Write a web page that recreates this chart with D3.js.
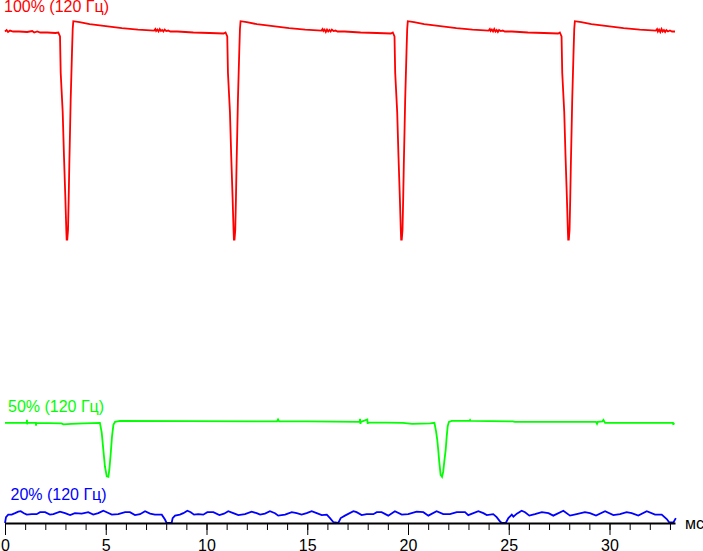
<!DOCTYPE html>
<html>
<head>
<meta charset="utf-8">
<script src="https://cdn.jsdelivr.net/npm/d3@7"></script>
<style>
    html, body { margin: 0; padding: 0; background: #fff; }
    svg { display: block; font-family: Arial, "Liberation Sans", sans-serif; }
</style>
</head>
<body>
<svg id="chart" width="703" height="551"></svg>
<script>
    // time in ms, relative brightness (100 = full white level)
    var redTrace = [
        [0, 100.1], [0.08, 100.4], [0.15, 100.0], [0.25, 100.3], [0.4, 100.1], [0.7, 100.1], [1.1, 100.0],
        [1.35, 100.2], [1.45, 99.9], [1.6, 100.1], [1.75, 99.9], [2.1, 99.9], [2.5, 99.8],
        [2.645, 99.9], [2.73, 99.1], [2.764, 91.7], [2.864, 83.6], [2.928, 74.6], [2.993, 66.5], [3.042, 59.7],
        [3.06, 57.7], [3.09, 57.7], [3.127, 59.7], [3.16, 65.9], [3.19, 72.6], [3.226, 79.6], [3.26, 86.3],
        [3.325, 95.9], [3.36, 100.6], [3.39, 102.2],
        [3.70, 102.0], [4.20, 101.6], [5.00, 101.2], [5.80, 100.8], [6.60, 100.5], [7.40, 100.3], [7.46, 100.6],
        [7.50, 100.2], [7.56, 100.5], [7.62, 100.1], [7.68, 100.6], [7.74, 100.2], [7.80, 100.4], [7.86, 100.1],
        [7.92, 100.5], [8.00, 100.2], [8.10, 100.3], [8.20, 100.1],
        [8.55, 100.1], [9.35, 99.9], [10.15, 99.8], [10.85, 99.7],
        [10.945, 99.9], [11.03, 99.1], [11.064, 91.7], [11.164, 83.6], [11.228, 74.6], [11.293, 66.5], [11.342, 59.7],
        [11.36, 57.7], [11.39, 57.7], [11.427, 59.7], [11.46, 65.9], [11.49, 72.6], [11.526, 79.6], [11.56, 86.3],
        [11.625, 95.9], [11.66, 100.6], [11.69, 102.2],
        [12.00, 102.0], [12.50, 101.6], [13.30, 101.2], [14.10, 100.8], [14.90, 100.5], [15.70, 100.3], [15.76, 100.6],
        [15.80, 100.2], [15.86, 100.5], [15.92, 100.0], [15.98, 100.5], [16.04, 100.1], [16.10, 100.4], [16.16, 100.1],
        [16.22, 100.5], [16.30, 100.2], [16.40, 100.3], [16.50, 100.1],
        [16.85, 100.1], [17.65, 99.9], [18.45, 99.8], [19.15, 99.7],
        [19.245, 99.9], [19.33, 99.1], [19.364, 91.7], [19.464, 83.6], [19.528, 74.6], [19.593, 66.5], [19.642, 59.7],
        [19.66, 57.7], [19.69, 57.7], [19.727, 59.7], [19.76, 65.9], [19.79, 72.6], [19.826, 79.6], [19.86, 86.3],
        [19.925, 95.9], [19.96, 100.6], [19.99, 102.2],
        [20.30, 102.0], [20.80, 101.6], [21.60, 101.2], [22.40, 100.8], [23.20, 100.5], [24.00, 100.3], [24.06, 100.6],
        [24.10, 100.2], [24.16, 100.5], [24.22, 100.1], [24.28, 100.6], [24.34, 100.1], [24.40, 100.4], [24.46, 100.0],
        [24.52, 100.4], [24.60, 100.2], [24.70, 100.3], [24.80, 100.1],
        [25.15, 100.1], [25.95, 99.9], [26.75, 99.8], [27.45, 99.7],
        [27.535, 99.9], [27.62, 99.1], [27.654, 91.7], [27.754, 83.6], [27.818, 74.6], [27.883, 66.5], [27.932, 59.7],
        [27.95, 57.7], [27.98, 57.7], [28.017, 59.7], [28.05, 65.9], [28.08, 72.6], [28.116, 79.6], [28.15, 86.3],
        [28.215, 95.9], [28.25, 100.6], [28.28, 102.2],
        [28.60, 102.0], [29.10, 101.6], [29.90, 101.2], [30.70, 100.8], [31.50, 100.5], [32.30, 100.3], [32.36, 100.6],
        [32.40, 100.1], [32.46, 100.5], [32.52, 100.0], [32.58, 100.6], [32.64, 100.1], [32.70, 100.4], [32.76, 100.0],
        [32.82, 100.4], [32.90, 100.1], [33.00, 100.3], [33.10, 100.1], [33.25, 100.1]
    ];

    var greenTrace = [
        [0, 20.4], [1.08, 20.4], [1.09, 21.0], [1.10, 20.1], [1.11, 20.4], [1.53, 20.4], [1.54, 19.8], [1.55, 20.4],
        [2.8, 20.3], [2.9, 20.1], [3.3, 20.2], [3.9, 20.3], [4.71, 20.4],
        [4.80, 18.4], [4.88, 14.9], [4.96, 11.5], [5.05, 9.5], [5.13, 9.4], [5.18, 10.9], [5.25, 14.3], [5.31, 17.6],
        [5.38, 20.0], [5.46, 20.6], [5.71, 20.8],
        [13.50, 20.7], [13.55, 21.1], [13.60, 20.7], [15.0, 20.7], [17.60, 20.6], [17.62, 21.2], [17.64, 20.2],
        [17.66, 20.6], [17.98, 21.1], [18.00, 20.2], [18.02, 20.5], [19.75, 20.4], [20.2, 20.2], [21.1, 20.3],
        [21.31, 20.4], [21.39, 18.7], [21.45, 17.0], [21.50, 14.9], [21.55, 12.5], [21.62, 9.8], [21.69, 9.4],
        [21.75, 10.5], [21.80, 12.5], [21.87, 14.9], [21.92, 17.6], [21.97, 19.7], [22.03, 20.6], [22.17, 20.8],
        [23.05, 20.8], [23.08, 21.0], [23.11, 20.8], [25.2, 20.7], [25.3, 20.6], [29.33, 20.6], [29.38, 20.2],
        [29.42, 20.6], [29.65, 20.7], [29.70, 21.0], [29.78, 20.4], [33.15, 20.4], [33.17, 20.0], [33.2, 20.4]
    ];

    var blueTrace = [
        [0, 0], [0.05, 1.2], [0.16, 1.7], [0.33, 1.7], [0.5, 2.0], [0.66, 2.3], [0.78, 2.4], [0.94, 2.0], [1.08, 1.7],
        [1.33, 1.8], [1.57, 1.8], [1.74, 2.2], [1.99, 2.2], [2.23, 1.7], [2.40, 1.8], [2.73, 2.3], [2.98, 2.0],
        [3.23, 1.6], [3.47, 2.0], [3.81, 1.9], [4.13, 2.2], [4.38, 1.7], [4.63, 2.0], [4.88, 2.5], [5.05, 2.2],
        [5.30, 1.7], [5.62, 1.8], [5.96, 2.2], [6.20, 2.2], [6.45, 1.6], [6.70, 1.8], [6.95, 2.4], [7.20, 1.9],
        [7.44, 1.7], [7.78, 1.7], [7.94, 0.7], [8.02, 0], [8.27, 0], [8.32, 1.0], [8.44, 1.5], [8.68, 1.7],
        [8.85, 2.0], [9.05, 2.5], [9.22, 2.2], [9.38, 1.7], [9.59, 1.8], [9.84, 1.7], [10.04, 2.2], [10.34, 2.2],
        [10.64, 1.6], [10.87, 1.9], [11.08, 2.4], [11.33, 2.0], [11.58, 1.6], [11.91, 1.8], [12.24, 2.3], [12.49, 2.0],
        [12.66, 1.7], [12.90, 1.9], [13.15, 2.4], [13.40, 2.0], [13.56, 1.5], [13.90, 1.7], [14.23, 2.2], [14.48, 2.0],
        [14.72, 1.7], [14.97, 2.0], [15.22, 2.4], [15.47, 2.0], [15.72, 1.6], [15.97, 1.7], [16.13, 1.0], [16.29, 0.2],
        [16.54, 0], [16.66, 1.0], [16.87, 1.5], [17.29, 2.4], [17.45, 2.2], [17.70, 1.6], [17.95, 1.8], [18.28, 1.8],
        [18.45, 2.2], [18.69, 2.2], [19.02, 1.5], [19.35, 2.4], [19.69, 1.7], [20.01, 1.8], [20.43, 2.3], [20.76, 2.2],
        [21.01, 1.5], [21.42, 2.4], [21.75, 1.8], [22.08, 1.8], [22.42, 2.2], [22.83, 2.2], [22.99, 1.6], [23.49, 2.4],
        [23.74, 2.0], [23.91, 1.6], [24.23, 1.8], [24.40, 1.2], [24.57, 0.3], [24.65, 0], [24.85, 0], [24.98, 1.0],
        [25.15, 1.7], [25.23, 1.3], [25.40, 1.9], [25.64, 2.5], [25.81, 2.2], [26.02, 1.5], [26.30, 1.8], [26.64, 2.2],
        [26.97, 2.0], [27.21, 1.5], [27.71, 2.5], [28.04, 1.5], [28.37, 1.8], [28.78, 2.2], [29.03, 2.0], [29.33, 1.5],
        [29.78, 2.4], [30.19, 1.6], [30.52, 1.8], [30.85, 2.2], [31.10, 2.0], [31.43, 1.5], [31.85, 2.4], [32.26, 1.7],
        [32.59, 1.7], [32.84, 0.8], [32.97, 0.1], [33.17, 0.1], [33.29, 1.0]
    ];

    var traceLabels = ['100% (120 Гц)', '50% (120 Гц)', '20% (120 Гц)'];
    var minorTicks = d3.range(0, 34);
    var majorTicks = [0, 5, 10, 15, 20, 25, 30];
    var unitLabel = 'мс';

    var width = 703;
    var height = 551;

    var x = d3.scaleLinear().domain([0, 33.25]).range([5, 675]);
    var y = d3.scaleLinear().domain([0, 100]).range([523, 32]);

    var series = [
        { data: redTrace, label: traceLabels[0], color: '#ff0000', labelX: 4, labelDy: -9 },
        { data: greenTrace, label: traceLabels[1], color: '#00ff00', labelX: 8, labelDy: -6.5 },
        { data: blueTrace, label: traceLabels[2], color: '#0000ff', labelX: 10.5, labelDy: -10.5 }
    ];

    var svg = d3.select('#chart')
        .attr('width', width)
        .attr('height', height);

    var line = d3.line()
        .x(function (d) { return x(d[0]); })
        .y(function (d) { return y(d[1]); })
        .curve(d3.curveLinear);

    series.forEach(function (s) {
        svg.append('path')
            .datum(s.data)
            .attr('d', line)
            .attr('fill', 'none')
            .attr('stroke', s.color)
            .attr('stroke-width', 1.8)
            .attr('stroke-linejoin', 'miter');

        svg.append('text')
            .attr('x', s.labelX)
            .attr('y', y(d3.max(s.data, function (d) { return d[1]; })) + s.labelDy)
            .attr('fill', s.color)
            .attr('font-size', 16)
            .text(s.label);
    });

    // axis: minor ticks every ms, major ticks + labels every 5 ms
    var axisG = svg.append('g')
        .attr('transform', 'translate(0,' + y(0) + ')');

    axisG.append('g')
        .call(d3.axisBottom(x).tickValues(minorTicks).tickSize(7).tickSizeOuter(0).tickFormat(''))
        .call(function (g) { g.select('.domain').remove(); });

    var major = axisG.append('g')
        .call(d3.axisBottom(x).tickValues(majorTicks).tickSize(12).tickSizeOuter(0).tickPadding(5).tickFormat(d3.format('d')));

    major.select('.domain').attr('stroke-width', 2);
    major.selectAll('text')
        .attr('font-size', 16)
        .attr('font-family', 'Arial, "Liberation Sans", sans-serif')
        .attr('fill', '#000');

    axisG.selectAll('.tick line').attr('stroke', '#000');

    svg.append('text')
        .attr('x', 685)
        .attr('y', y(0) + 6)
        .attr('font-size', 16)
        .attr('fill', '#000')
        .text(unitLabel);
</script>
</body>
</html>
